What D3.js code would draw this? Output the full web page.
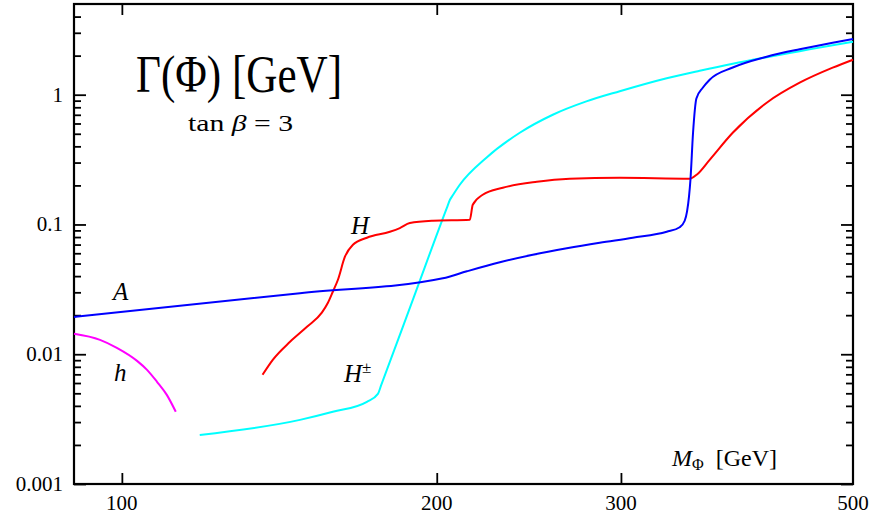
<!DOCTYPE html>
<html>
<head>
<meta charset="utf-8">
<script src="https://cdn.jsdelivr.net/npm/d3@7"></script>
<style>
  body { margin: 0; background: #fff; }
  text { font-family: "Liberation Serif", "DejaVu Serif", serif; fill: #000; }
</style>
</head>
<body>
<script>
//data: mass [GeV] and total width [GeV]
var massA  = [90, 148, 202.7, 213.7, 229.8, 247.1, 266.3, 286.3, 307.9, 331.8, 341.4, 345.2, 347, 348.5, 349.6, 351.6, 354.2, 359.2, 364.7, 383.7, 413.5, 444.6, 478.1, 500];
var widthA = [0.0194, 0.02954, 0.03847, 0.04356, 0.05112, 0.05839, 0.06553, 0.07226, 0.07897, 0.08786, 0.09515, 0.1068, 0.126, 0.1644, 0.2212, 0.509, 0.936, 1.132, 1.305, 1.62, 1.963, 2.243, 2.517, 2.689];

var massH  = [136.3, 139.4, 144.8, 150.3, 155.3, 157.4, 159.1, 160.9, 163.4, 166.3, 171.5, 180.4, 184.4, 188.5, 198.3, 215.1, 216.5, 221.3, 231.3, 249.3, 268, 299.2, 349, 354.4, 364.7, 383.7, 413.5, 444.6, 478.1, 500];
var widthH = [0.00694, 0.00905, 0.01246, 0.01626, 0.0209, 0.0249, 0.0303, 0.0375, 0.0564, 0.0697, 0.079, 0.0878, 0.0938, 0.1025, 0.1068, 0.1087, 0.1418, 0.1694, 0.1919, 0.2134, 0.2251, 0.2291, 0.2251, 0.2416, 0.315, 0.509, 0.868, 1.237, 1.615, 1.861];

var massHc  = [118.7, 148, 159.1, 171.5, 175.7, 176.9, 190.2, 204.5, 205.9, 207.2, 210.4, 223.1, 240.1, 258.2, 278, 299.2, 331.8, 356.8, 383.7, 413.5, 444.6, 478.1, 500];
var widthHc = [0.00239, 0.00312, 0.0036, 0.0043, 0.00495, 0.00572, 0.02771, 0.1343, 0.155, 0.168, 0.2023, 0.327, 0.509, 0.701, 0.888, 1.064, 1.340, 1.531, 1.734, 1.946, 2.165, 2.408, 2.563];

var massh  = [90, 95.3, 98.9, 103.4, 105.7, 108.0, 110.4, 112.6];
var widthh = [0.01437, 0.01291, 0.0112, 0.00889, 0.00758, 0.00616, 0.00486, 0.0036];

//tick labels
var xTicks = [100, 200, 300, 500];
var yTicks = [0.001, 0.01, 0.1, 1];
var yLabels = ["0.001", "0.01", "0.1", "1"];

//size svg variable
var outerWidth = 887;
var outerHeight = 517;

var svg = d3.select("body").append("svg")
.attr("width", outerWidth)
.attr("height", outerHeight);

//plot frame in pixels
var pL = 74, pR = 853, pT = 4, pB = 484;

var xScale = d3.scaleLog().domain([90, 500]).range([pL, pR]);
var yScale = d3.scaleLog().domain([0.001, 5]).range([pB, pT]);

//minor ticks 2..9 in every decade
var yMinor = [];
[0.001, 0.01, 0.1, 1].forEach(function(dec){
  for (var k = 2; k <= 9; k++) {
    if (dec * k < 5) yMinor.push(dec * k);
  }
});

function renderAxes(){
  //y ticks, left and right, pointing inward
  svg.append("g")
  .attr("transform", "translate(" + pL + ",0)")
  .call(d3.axisLeft(yScale).tickValues(yTicks).tickSize(-12).tickFormat(""));
  svg.append("g")
  .attr("transform", "translate(" + pL + ",0)")
  .call(d3.axisLeft(yScale).tickValues(yMinor).tickSize(-7).tickFormat(""));
  svg.append("g")
  .attr("transform", "translate(" + pR + ",0)")
  .call(d3.axisRight(yScale).tickValues(yTicks).tickSize(-12).tickFormat(""));
  svg.append("g")
  .attr("transform", "translate(" + pR + ",0)")
  .call(d3.axisRight(yScale).tickValues(yMinor).tickSize(-7).tickFormat(""));

  //x ticks, bottom and top
  svg.append("g")
  .attr("transform", "translate(0," + pB + ")")
  .call(d3.axisBottom(xScale).tickValues(xTicks.slice(0, 3)).tickSize(-11).tickFormat(""));
  svg.append("g")
  .attr("transform", "translate(0," + pT + ")")
  .call(d3.axisTop(xScale).tickValues(xTicks.slice(0, 3)).tickSize(-11).tickFormat(""));

  svg.selectAll(".domain").remove();
  svg.selectAll(".tick line").attr("stroke", "#000").attr("stroke-width", 1.8);

  //frame
  svg.append("rect")
  .attr("x", pL).attr("y", pT)
  .attr("width", pR - pL).attr("height", pB - pT)
  .attr("fill", "none").attr("stroke", "#000").attr("stroke-width", 2.2);

  //tick labels
  svg.selectAll(".ylab").data(yTicks).enter().append("text")
  .attr("class", "ylab")
  .attr("x", 63)
  .attr("y", (d)=>yScale(d) + 7)
  .attr("text-anchor", "end")
  .attr("font-size", 21)
  .text((d, i)=>yLabels[i]);

  svg.selectAll(".xlab").data(xTicks).enter().append("text")
  .attr("class", "xlab")
  .attr("x", (d)=>xScale(d))
  .attr("y", 510)
  .attr("text-anchor", "middle")
  .attr("font-size", 21)
  .text((d)=>d);
}

function renderLines(){
  var line = d3.line()
  .x((d)=>xScale(d[0]))
  .y((d)=>yScale(d[1]))
  .curve(d3.curveMonotoneX);

  var series = [
    {m: massh, w: widthh, c: "#ff00ff"},
    {m: massHc, w: widthHc, c: "#00ffff"},
    {m: massH, w: widthH, c: "#ff0000"},
    {m: massA, w: widthA, c: "#0000ff"}
  ];

  series.forEach(function(s){
    svg.append("path")
    .datum(d3.zip(s.m, s.w))
    .attr("fill", "none")
    .attr("stroke", s.c)
    .attr("stroke-width", 2)
    .attr("d", line);
  });
}

function renderLabels(){
  svg.append("text")
  .attr("x", 136).attr("y", 92)
  .attr("font-size", 53)
  .attr("textLength", 206)
  .attr("lengthAdjust", "spacingAndGlyphs")
  .text("Γ(Φ) [GeV]");

  var tb = svg.append("text")
  .attr("x", 188).attr("y", 131)
  .attr("font-size", 23)
  .attr("textLength", 105)
  .attr("lengthAdjust", "spacingAndGlyphs");
  tb.append("tspan").text("tan ");
  tb.append("tspan").attr("font-style", "italic").text("β");
  tb.append("tspan").text(" = 3");

  var lab = [
    {t: "A", x: 113, y: 300},
    {t: "h", x: 114, y: 381},
    {t: "H", x: 351, y: 234}
  ];
  svg.selectAll(".clab").data(lab).enter().append("text")
  .attr("class", "clab")
  .attr("x", (d)=>d.x).attr("y", (d)=>d.y)
  .attr("font-size", 25)
  .attr("font-style", "italic")
  .text((d)=>d.t);

  var hc = svg.append("text")
  .attr("x", 344).attr("y", 382)
  .attr("font-size", 25);
  hc.append("tspan").attr("font-style", "italic").text("H");
  hc.append("tspan").attr("font-size", 17).attr("dy", -9).text("±");

  var mx = svg.append("text")
  .attr("x", 672).attr("y", 466)
  .attr("font-size", 24);
  mx.append("tspan").attr("font-style", "italic").text("M");
  mx.append("tspan").attr("font-size", 16).attr("dy", 4).text("Φ");
  mx.append("tspan").attr("dy", -4).text("\u00a0\u00a0[GeV]");
}

renderAxes();
renderLines();
renderLabels();
</script>
</body>
</html>
